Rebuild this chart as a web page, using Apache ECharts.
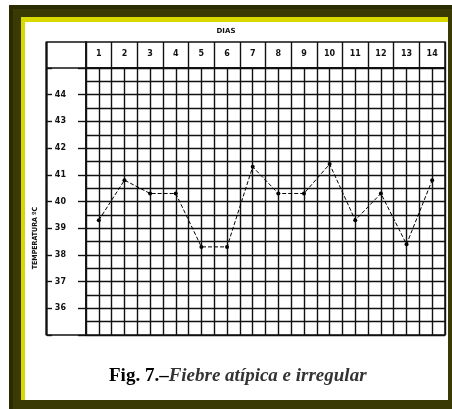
<!DOCTYPE html>
<html>
<head>
<meta charset="utf-8">
<script src="https://cdn.jsdelivr.net/npm/echarts@6/dist/echarts.min.js"></script>
<style>
  html, body { margin: 0; padding: 0; background: #fff; }
  .frame { position: absolute; left: 9px; top: 5px; width: 443px; height: 404px; background: #3a3a04; box-sizing: border-box; border-left: 4px solid #2b2b00; border-top: 4px solid #2b2b00; }
  .yellow { position: absolute; left: 21px; top: 17px; width: 427px; height: 383px; background: #d9d900; }
  .paper { position: absolute; left: 25px; top: 22px; width: 423px; height: 378px; background: #fff; }
  #chart { position: absolute; left: 0; top: 0; width: 452px; height: 409px; }
</style>
</head>
<body>
<div class="frame"></div>
<div class="yellow"></div>
<div class="paper"></div>
<div id="chart"></div>
<script>
const days = [1, 2, 3, 4, 5, 6, 7, 8, 9, 10, 11, 12, 13, 14];
const temps = [39.3, 40.8, 40.3, 40.3, 38.3, 38.3, 41.3, 40.3, 40.3, 41.4, 39.3, 40.3, 38.4, 40.8];
const tempTicks = [36, 37, 38, 39, 40, 41, 42, 43, 44];

const ink = "#111";
const chart = echarts.init(document.getElementById("chart"));

chart.setOption({
  animation: false,
  title: [
    {
      text: "DIAS",
      left: "center",
      top: 23,
      textStyle: { fontSize: 7, fontWeight: "bold", color: ink, fontFamily: "DejaVu Sans" },
    },
    {
      text: "{b|Fig. 7.–}{i|Fiebre atípica e irregular}",
      left: 104,
      top: 362,
      textStyle: {
        rich: {
          b: { fontSize: 19, fontWeight: "bold", color: "#000", fontFamily: "Liberation Serif" },
          i: { fontSize: 19, fontStyle: "italic", color: "#333", fontFamily: "Liberation Serif" },
        },
      },
    },
  ],
  grid: [
    { left: 86, top: 68, width: 359, height: 267, show: true, borderColor: ink, borderWidth: 1.5 },
    { left: 86, top: 42, width: 359, height: 26, show: true, borderColor: ink, borderWidth: 1.5 },
  ],
  xAxis: [
    {
      gridIndex: 0,
      type: "value",
      position: "top",
      min: 0.5,
      max: 14.5,
      interval: 0.5,
      axisLine: { show: true, lineStyle: { color: ink, width: 1.5 } },
      axisTick: { show: false },
      axisLabel: {
        margin: 10,
        fontSize: 8,
        fontWeight: "bold",
        color: ink,
        fontFamily: "DejaVu Sans",
        formatter: (v) => (days.includes(v) ? String(v) : ""),
      },
      splitLine: { show: true, lineStyle: { color: ink, width: 1.4 } },
    },
    {
      gridIndex: 1,
      type: "value",
      min: 0.5,
      max: 14.5,
      interval: 1,
      axisLine: { show: false },
      axisTick: { show: false },
      axisLabel: { show: false },
      splitLine: { show: true, lineStyle: { color: ink, width: 1.4 } },
    },
  ],
  yAxis: [
    {
      gridIndex: 0,
      type: "value",
      min: 35,
      max: 45,
      interval: 1,
      axisLine: { show: false },
      axisTick: { show: true, length: 8, lineStyle: { color: ink, width: 1.4 } },
      axisLabel: {
        margin: 20,
        fontSize: 8,
        fontWeight: "bold",
        color: ink,
        fontFamily: "DejaVu Sans",
        formatter: (v) => (tempTicks.includes(v) ? String(v) : ""),
      },
      splitLine: { show: true, lineStyle: { color: ink, width: 1.4 } },
      minorTick: { show: false, splitNumber: 2 },
      minorSplitLine: { show: true, lineStyle: { color: ink, width: 1.4 } },
    },
    {
      gridIndex: 1,
      type: "value",
      show: false,
    },
    {
      gridIndex: 0,
      type: "value",
      position: "left",
      offset: 39,
      min: 35,
      max: 45,
      interval: 1,
      axisLine: { show: false },
      axisTick: { show: true, inside: true, length: 5, lineStyle: { color: ink, width: 1.4 } },
      axisLabel: { show: false },
      splitLine: { show: false },
    },
  ],
  graphic: [
    {
      type: "rect",
      shape: { x: 46.5, y: 42, width: 39.5, height: 293 },
      style: { fill: "none", stroke: ink, lineWidth: 1.5 },
    },
    {
      type: "line",
      shape: { x1: 46.5, y1: 42, x2: 46.5, y2: 335 },
      style: { stroke: ink, lineWidth: 2.2 },
    },
    {
      type: "line",
      shape: { x1: 46.5, y1: 68, x2: 86, y2: 68 },
      style: { stroke: ink, lineWidth: 1.5 },
    },
    {
      type: "text",
      x: 35,
      y: 238,
      rotation: Math.PI / 2,
      style: {
        text: "TEMPERATURA ºC",
        fontSize: 7,
        fontWeight: "bold",
        fontFamily: "DejaVu Sans Condensed",
        fill: ink,
        align: "center",
        verticalAlign: "middle",
      },
    },
  ],
  series: [
    {
      name: "Temperatura",
      type: "line",
      xAxisIndex: 0,
      yAxisIndex: 0,
      data: days.map((d, i) => [d, temps[i]]),
      symbol: "circle",
      symbolSize: 4,
      itemStyle: { color: "#000" },
      lineStyle: { color: "#000", width: 1, type: [4, 2] },
    },
  ],
});
</script>
</body>
</html>
